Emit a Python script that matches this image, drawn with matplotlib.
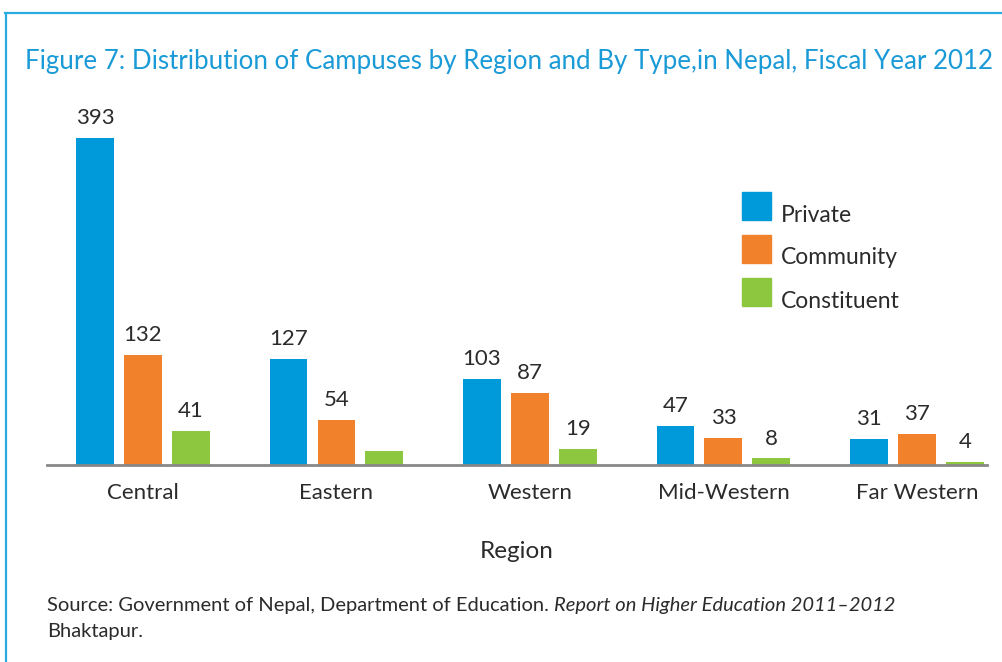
import numpy as np
import matplotlib.pyplot as plt
from matplotlib.lines import Line2D
from matplotlib.patches import Rectangle

regions = ["Central", "Eastern", "Western", "Mid-Western", "Far Western"]
private = [393, 127, 103, 47, 31]
community = [132, 54, 87, 33, 37]
constituent = [41, 17, 19, 8, 4]
# the reference prints no number above the Eastern constituent bar
constituent_labels = ["41", "", "19", "8", "4"]

series = ["Private", "Community", "Constituent"]
colors = ["#0099d9", "#f2812c", "#8dc63f"]

plt.rcParams["font.family"] = ["Lato", "DejaVu Sans"]
txt = "#2b2b2b"

fig = plt.figure(figsize=(10.02, 6.62), dpi=100)
W, H = 1002, 662

# axes: baseline at y=465 px, x from 47 to 987 px
ax = fig.add_axes([47 / W, (H - 465) / H, 940 / W, (465 - 115) / H])
x = np.arange(len(regions))
bw = 0.196
off = 0.248
vals = [private, community, constituent]
labs = [[str(v) for v in private], [str(v) for v in community], constituent_labels]
for i, (v, c, lab) in enumerate(zip(vals, colors, labs)):
    bars = ax.bar(x + (i - 1) * off, v, bw, color=c, label=series[i])
    ax.bar_label(bars, labels=lab, padding=7, fontsize=16, color=txt)

ax.set_xlim(-0.496, 4.362)
ax.set_ylim(0, 420)
for s in ["top", "right", "left"]:
    ax.spines[s].set_visible(False)
ax.spines["bottom"].set_color("#888888")
ax.spines["bottom"].set_linewidth(2)
ax.set_yticks([])
ax.set_xticks(x)
ax.set_xticklabels(regions, fontsize=16, color=txt)
ax.tick_params(axis="x", length=0, pad=13)
ax.set_xlabel("Region", fontsize=17.5, color=txt, labelpad=27)

# legend drawn by hand: square + text
for i, (name, c) in enumerate(zip(series, colors)):
    ytop = 192 + i * 43
    fig.patches.append(Rectangle((742 / W, (H - ytop - 28) / H), 29 / W, 28 / H,
                                 transform=fig.transFigure, color=c))
    fig.text(781 / W, (H - ytop - 23) / H, name, fontsize=16.5, color=txt, va="center")

# title
fig.text(25 / W, (H - 62) / H, "Figure 7: Distribution of Campuses by Region and By Type,in Nepal, Fiscal Year 2012",
         fontsize=18.6, color="#1a9ad6", va="center")

# source note with italic report name
r = fig.canvas.get_renderer()
t1 = fig.text(47 / W, (H - 605) / H, "Source: Government of Nepal, Department of Education. ",
              fontsize=14.5, color=txt, va="center")
bb = t1.get_window_extent(r)
fig.text(bb.x1 / W, (H - 605) / H, "Report on Higher Education 2011\u20132012",
         fontsize=14.5, color=txt, va="center", style="italic")
fig.text(47 / W, (H - 632) / H, "Bhaktapur.", fontsize=14.5, color=txt, va="center")

# frame lines (top and left)
fig.add_artist(Line2D([5 / W, 1], [(H - 12.5) / H] * 2, transform=fig.transFigure,
                      color="#29abe2", lw=1.6))
fig.add_artist(Line2D([5.5 / W] * 2, [0, (H - 12.5) / H], transform=fig.transFigure,
                      color="#29abe2", lw=1.6))

fig.savefig("out.png", dpi=100)
